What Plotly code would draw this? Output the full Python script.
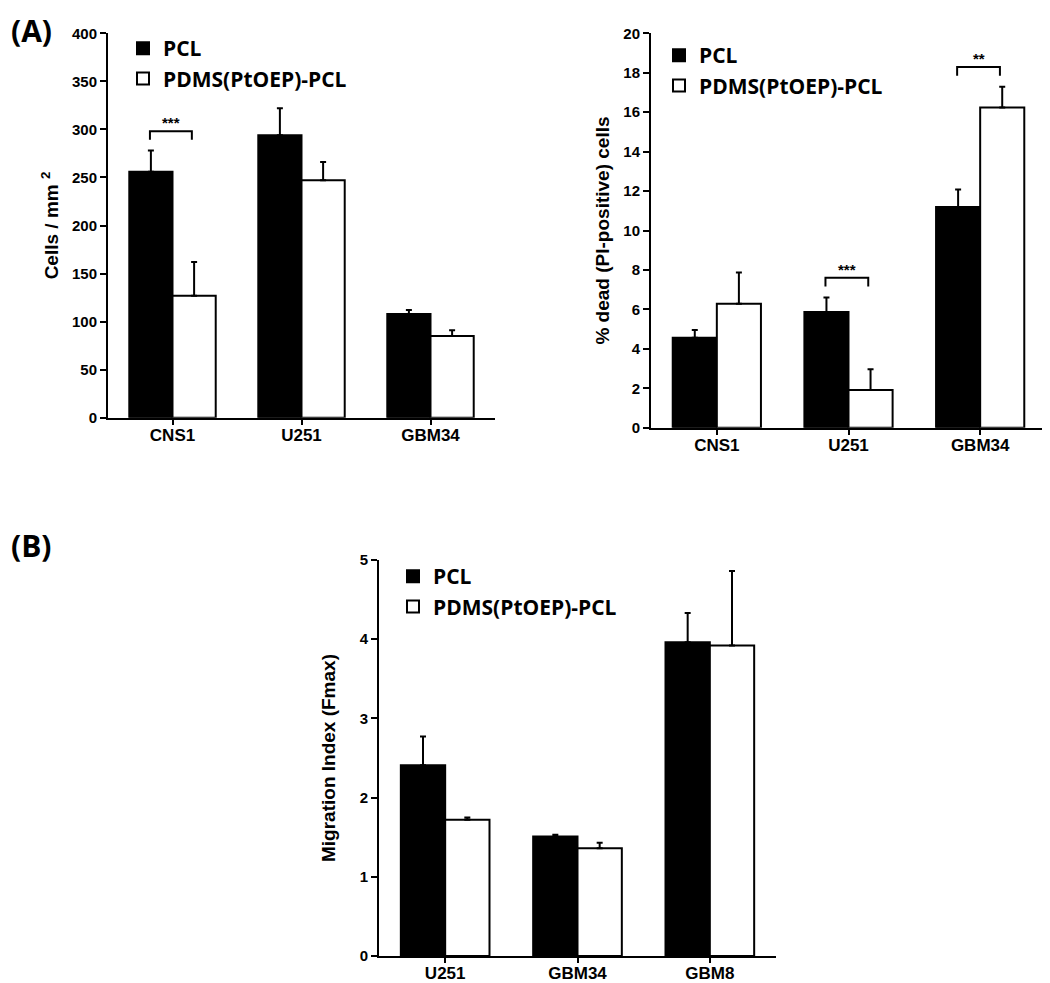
import plotly.graph_objects as go

# ---------------- data ----------------
cats_a = ["CNS1", "U251", "GBM34"]
cells_pcl = [256, 294, 108]
cells_pcl_err = [22, 28, 4]
cells_pdms = [127, 247, 85]
cells_pdms_err = [35, 19, 6]

dead_pcl = [4.56, 5.87, 11.19]
dead_pcl_err = [0.39, 0.73, 0.89]
dead_pdms = [6.28, 1.91, 16.24]
dead_pdms_err = [1.59, 1.06, 1.05]

cats_b = ["U251", "GBM34", "GBM8"]
mig_pcl = [2.41, 1.51, 3.96]
mig_pcl_err = [0.36, 0.02, 0.37]
mig_pdms = [1.72, 1.36, 3.92]
mig_pdms_err = [0.03, 0.07, 0.94]

series_names = ["PCL", "PDMS(PtOEP)-PCL"]

# significance brackets: (category, label)
sig_cells = [("CNS1", "***")]
sig_dead = [("U251", "***"), ("GBM34", "**")]
sig_mig = []

W, H = 1050, 983
OFF = 8  # page body margin compensation
TICK_FONT = dict(family="Liberation Sans, Arial", size=15, color="black", weight="bold")
XTICK_FONT = dict(family="Liberation Sans, Arial", size=17, color="black", weight="bold")
TITLE_FONT = dict(family="Liberation Sans, Arial", size=19, color="black", weight="bold")
LEG_FONT = dict(family="Open Sans", size=21, color="black", weight="bold")

fig = go.Figure()


def add_pair(cats, pcl, pcl_err, pdms, pdms_err, xa, ya, legend):
    for name, vals, errs, fill in [
        (series_names[0], pcl, pcl_err, "black"),
        (series_names[1], pdms, pdms_err, "white"),
    ]:
        fig.add_trace(go.Bar(
            x=cats, y=vals, name=name,
            marker=dict(color=fill, line=dict(color="black", width=2)),
            error_y=dict(type="data", array=errs, arrayminus=[0] * len(errs),
                         symmetric=False, color="black", thickness=2, width=3),
            xaxis=xa, yaxis=ya, legend=legend, showlegend=True,
        ))


add_pair(cats_a, cells_pcl, cells_pcl_err, cells_pdms, cells_pdms_err, "x", "y", "legend")
add_pair(cats_a, dead_pcl, dead_pcl_err, dead_pdms, dead_pdms_err, "x2", "y2", "legend2")
add_pair(cats_b, mig_pcl, mig_pcl_err, mig_pdms, mig_pdms_err, "x3", "y3", "legend3")


def px_x(p):
    return (p - OFF) / W


def px_y(p):
    return 1 - (p - OFF) / H


def dom_x(a, b):
    return [px_x(a), px_x(b)]


def dom_y(top, bottom):
    return [px_y(bottom), px_y(top)]


axis_common = dict(showline=True, linewidth=2, linecolor="black", ticks="outside",
                   tickwidth=2, ticklen=6, tickcolor="black", showgrid=False,
                   zeroline=False, mirror=False, automargin=False)
xaxis_common = dict(axis_common, ticklen=5, ticklabelstandoff=-4)

fig.update_layout(
    template="none",
    width=W, height=H,
    margin=dict(l=0, r=0, t=0, b=0, autoexpand=False),
    plot_bgcolor="white", paper_bgcolor="white",
    barmode="group", bargap=0.33, bargroupgap=0,
    xaxis=dict(domain=dom_x(108, 495), anchor="y", range=[-0.5, 2.5],
               tickfont=XTICK_FONT, **xaxis_common),
    yaxis=dict(domain=dom_y(33.3, 417.7), anchor="x", range=[0, 400], dtick=50,
               tickfont=TICK_FONT,
               title=dict(text="Cells / mm <sup>2</sup>", font=TITLE_FONT, standoff=8),
               **axis_common),
    xaxis2=dict(domain=dom_x(651, 1046), anchor="y2", range=[-0.5, 2.5],
                tickfont=XTICK_FONT, **xaxis_common),
    yaxis2=dict(domain=dom_y(33.3, 427.7), anchor="x2", range=[0, 20], dtick=2,
                tickfont=TICK_FONT,
                title=dict(text="% dead (PI-positive) cells", font=TITLE_FONT, standoff=9),
                **axis_common),
    xaxis3=dict(domain=dom_x(379, 776), anchor="y3", range=[-0.5, 2.5],
                tickfont=XTICK_FONT, **xaxis_common),
    yaxis3=dict(domain=dom_y(560, 956), anchor="x3", range=[0, 5], dtick=1,
                tickfont=TICK_FONT,
                title=dict(text="Migration Index (Fmax)", font=TITLE_FONT, standoff=19),
                **axis_common),
    legend=dict(x=px_x(123), y=px_y(28), xanchor="left", yanchor="top",
                font=LEG_FONT, bgcolor="rgba(0,0,0,0)", tracegroupgap=0),
    legend2=dict(x=px_x(659), y=px_y(35), xanchor="left", yanchor="top",
                 font=LEG_FONT, bgcolor="rgba(0,0,0,0)", tracegroupgap=0),
    legend3=dict(x=px_x(393), y=px_y(556), xanchor="left", yanchor="top",
                 font=LEG_FONT, bgcolor="rgba(0,0,0,0)", tracegroupgap=0),
)


def add_sig(sigs, cats, pcl, pcl_err, pdms, pdms_err, rng, xref, yref):
    for cat, label in sigs:
        i = cats.index(cat)
        top = max(pcl[i] + pcl_err[i], pdms[i] + pdms_err[i])
        yb = top + 0.05 * rng
        ye = yb - 0.022 * rng
        x0, x1 = i - 0.175, i + 0.15
        fig.add_shape(type="path",
                      path=f"M {x0},{ye} L {x0},{yb} L {x1},{yb} L {x1},{ye}",
                      xref=xref, yref=yref, line=dict(color="black", width=2))
        fig.add_annotation(x=(x0 + x1) / 2, y=yb, xref=xref, yref=yref, text=label,
                           showarrow=False, yanchor="bottom", yshift=-2,
                           font=dict(family="Liberation Sans, Arial", size=15,
                                     color="black", weight="bold"))


add_sig(sig_cells, cats_a, cells_pcl, cells_pcl_err, cells_pdms, cells_pdms_err, 400, "x", "y")
add_sig(sig_dead, cats_a, dead_pcl, dead_pcl_err, dead_pdms, dead_pdms_err, 20, "x2", "y2")
add_sig(sig_mig, cats_b, mig_pcl, mig_pcl_err, mig_pdms, mig_pdms_err, 5, "x3", "y3")

# panel labels
fig.add_annotation(x=0, y=1, xref="paper", yref="paper", text="(A)",
                   showarrow=False, xanchor="left", yanchor="top", xshift=1,
                   font=dict(family="Open Sans", size=30, color="black", weight="bold"))
fig.add_annotation(x=0, y=px_y(545), xref="paper", yref="paper", text="(B)",
                   showarrow=False, xanchor="left", yanchor="middle", xshift=1,
                   font=dict(family="Open Sans", size=30, color="black", weight="bold"))

fig.write_html("out.html")
